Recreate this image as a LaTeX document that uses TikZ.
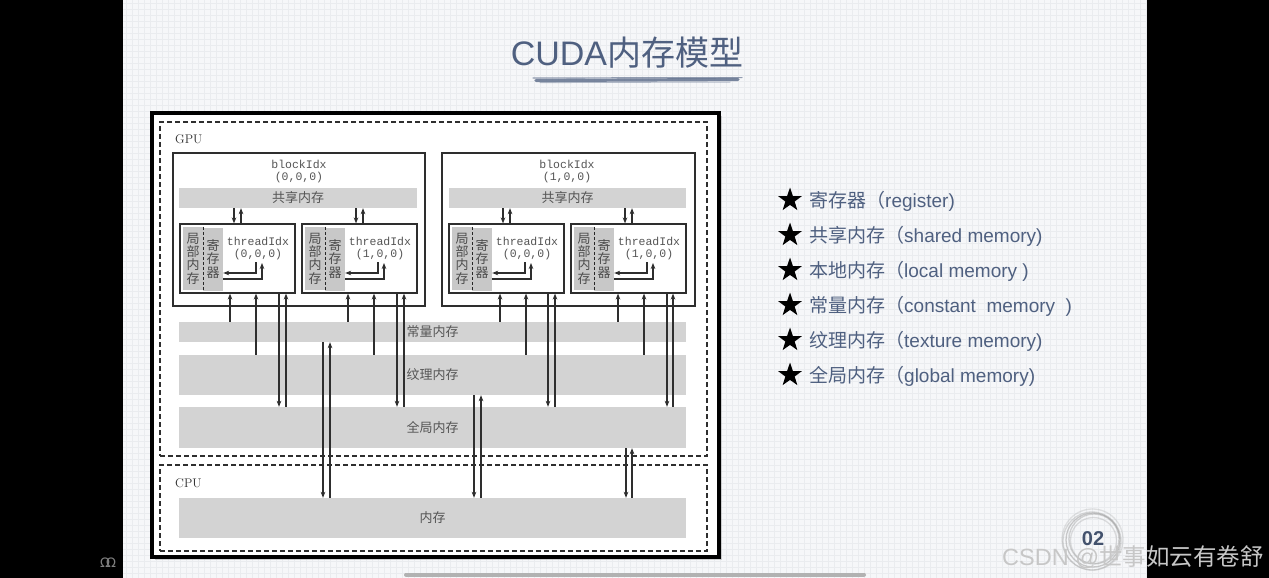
\documentclass[tikz,border=0pt]{standalone}
\usepackage{fontspec}
\usetikzlibrary{arrows.meta,shapes.geometric}
\newfontfamily\cjkf{Noto Sans CJK SC}
\newfontfamily\arialf{Liberation Sans}
\newfontfamily\monof{Liberation Mono}
\newfontfamily\dejavuf{DejaVu Sans}
\definecolor{slate}{HTML}{4F6080}
\definecolor{bargray}{HTML}{D3D3D3}
\definecolor{cellgray}{HTML}{C8C8C8}
\definecolor{ink}{HTML}{2E2E2E}
\definecolor{txtgray}{HTML}{555555}
\definecolor{slidebg}{HTML}{F6F7F9}
\definecolor{gridc}{HTML}{EAECEF}
\begin{document}
\begin{tikzpicture}[x=1pt,y=-1pt,
  bar/.style={fill=bargray, draw=none, inner sep=0pt, font=\cjkf\fontsize{13}{14}\selectfont, text=txtgray},
  thr/.style={draw=ink, line width=1.2pt, fill=white, minimum height=69pt, inner sep=0pt},
  blk/.style={draw=ink, line width=1.1pt, fill=white, minimum height=153pt, inner sep=0pt},
  cell/.style={fill=cellgray, draw=none, inner sep=0pt, minimum width=20pt, minimum height=63pt, align=center, font=\cjkf\fontsize{13}{13.4}\selectfont, text=txtgray!90!black},
  idx/.style={align=center, inner sep=0pt, font=\monof\fontsize{11.5}{12}\selectfont, text=txtgray},
  arr/.style={draw=ink, line width=1.3pt, -{Stealth[length=6pt,width=4.6pt]}},
  divider/.style={draw=black!85, line width=1.3pt, dash pattern=on 3pt off 2pt},
  dbox/.style={draw=ink, line width=1.2pt, dash pattern=on 5pt off 3pt, inner sep=0pt},
  lbl/.style={anchor=west, inner sep=0pt, text=ink, font=\fontsize{12.5}{13}\selectfont},
  item/.style={anchor=west, inner sep=0pt, text=slate, font=\fontsize{19}{20}\selectfont},
  starmark/.style={star, star points=5, star point ratio=2.55, fill=black, draw=none, minimum size=25pt, inner sep=0pt}
]
\useasboundingbox (0,0) rectangle (1269,578);
% screen background
\fill[black] (0,0) rectangle (1269,578);
\fill[slidebg] (123,0) rectangle (1146,578);
\foreach \gx in {126,132,...,1146} \draw[gridc, line width=0.3pt] (\gx,0) -- (\gx,578);
\foreach \gy in {3,9,...,578} \draw[gridc, line width=0.3pt] (123,\gy) -- (1146,\gy);

% title
\node[inner sep=0pt, text=slate, font=\fontsize{34}{36}\selectfont] (title) at (627,53) {{\arialf CUDA}{\cjkf 内存模型}};
\draw[slate, line width=3.2pt, opacity=.75, line cap=round] (536,80.5) -- (738,79.5);
\draw[slate, line width=1.2pt, opacity=.6, line cap=round] (533,78) -- (742,77.6);
\draw[slate!70, line width=1pt, opacity=.6, line cap=round] (540,82.6) -- (730,82);

% outer frame
\fill[black!35, opacity=.5] (155,116) rectangle (722,560);
\node[draw=black, fill=white, line width=3.5pt, minimum width=567pt, minimum height=444pt, inner sep=0pt] (frame) at (435.5,335) {};

% GPU / CPU dashed regions
\node[dbox, minimum width=547pt, minimum height=334pt] (gpu) at (433.5,289) {};
\node[dbox, minimum width=547pt, minimum height=86pt] (cpu) at (433.5,508) {};
\node[lbl] (gpul) at (175,139) {GPU};
\node[lbl] (cpul) at (175,483) {CPU};

% blocks
\node[blk, minimum width=252pt] (b0) at (299,229.5) {};
\node[blk, minimum width=253pt] (b1) at (568.5,229.5) {};
\node[idx] (b0id) at (299,171.5) {blockIdx\\(0,0,0)};
\node[idx] (b1id) at (567,171.5) {blockIdx\\(1,0,0)};
\node[bar, minimum width=238pt, minimum height=20pt] (shA) at (298,198) {共享内存};
\node[bar, minimum width=237pt, minimum height=20pt] (shB) at (567.5,198) {共享内存};

% memory bars
\node[bar, minimum width=507pt, minimum height=20pt] (const) at (432.5,332) {常量内存};
\node[bar, minimum width=507pt, minimum height=40pt] (tex) at (432.5,375) {纹理内存};
\node[bar, minimum width=507pt, minimum height=41pt] (glob) at (432.5,427.5) {全局内存};
\node[bar, minimum width=507pt, minimum height=40pt] (hmem) at (432.5,518) {内存};

% threads
\foreach \n/\l/\i/\c/\t/\gd/\gu/\blk in {t00/180/0/230/256/279/286/shA, t01/302/1/348/374/397/404/shA, t10/449/0/500/526/548/555/shB, t11/571/1/618/644/667/673/shB} {
  \node[thr, minimum width=115pt] (\n) at ({\l+57.5},258.5) {};
  \node[cell] (\n-loc) at ({\l+13},258.5) {局\\部\\内\\存};
  \node[cell] (\n-reg) at ({\l+33},259) {寄\\存\\器};
  \draw[divider] (\n-loc.north east) -- (\n-loc.south east);
  \node[idx] (\n-id) at ({\l+78},249) {threadIdx\\(\i,0,0)};
  \coordinate (\n-p) at ({\l+76},262);
  \coordinate (\n-q) at ({\l+82},263);
  \draw[arr] (\n-p) |- (\n-reg.east |- 0,273);
  \draw[arr] (\n-reg.east |- 0,279) -| (\n-q);
  % shared memory links
  \coordinate (\n-s1) at ({\l+54},0);
  \coordinate (\n-s2) at ({\l+61},0);
  \draw[arr] (\blk.south -| \n-s1) -- (\n.north -| \n-s1);
  \draw[arr] (\n.north -| \n-s2) -- (\blk.south -| \n-s2);
  % constant, texture, global links
  \coordinate (\n-c) at (\c,0);
  \coordinate (\n-t) at (\t,0);
  \coordinate (\n-gd) at (\gd,0);
  \coordinate (\n-gu) at (\gu,0);
  \draw[arr] (const.north -| \n-c) -- (\n.south -| \n-c);
  \draw[arr] (tex.north -| \n-t) -- (\n.south -| \n-t);
  \draw[arr] (\n.south -| \n-gd) -- (glob.north -| \n-gd);
  \draw[arr] (glob.north -| \n-gu) -- (\n.south -| \n-gu);
}

% host <-> device links
\coordinate (h1) at (323,0); \coordinate (h2) at (330,0);
\coordinate (h3) at (474,0); \coordinate (h4) at (481,0);
\coordinate (h5) at (626,0); \coordinate (h6) at (632,0);
\draw[arr] (const.south -| h1) -- (hmem.north -| h1);
\draw[arr] (hmem.north -| h2) -- (const.south -| h2);
\draw[arr] (tex.south -| h3) -- (hmem.north -| h3);
\draw[arr] (hmem.north -| h4) -- (tex.south -| h4);
\draw[arr] (glob.south -| h5) -- (hmem.north -| h5);
\draw[arr] (hmem.north -| h6) -- (glob.south -| h6);

% list on the right
\node[starmark] (s1) at (790,200) {};
\node[starmark] (s2) at (790,235) {};
\node[starmark] (s3) at (790,270) {};
\node[starmark] (s4) at (790,305) {};
\node[starmark] (s5) at (790,340) {};
\node[starmark] (s6) at (790,375) {};
\node[item] (i1) at (809,201) {{\cjkf 寄存器（}{\arialf register)}};
\node[item] (i2) at (809,236) {{\cjkf 共享内存（}{\arialf shared memory)}};
\node[item] (i3) at (809,271) {{\cjkf 本地内存（}{\arialf local memory )}};
\node[item] (i4) at (809,306) {{\cjkf 常量内存（}{\arialf constant\ \ memory\ \ )}};
\node[item] (i5) at (809,341) {{\cjkf 纹理内存（}{\arialf texture memory)}};
\node[item] (i6) at (809,376) {{\cjkf 全局内存（}{\arialf global memory)}};

% page badge
\foreach \dx/\dy/\r/\o in {0/0/27/.5, 1/-1/25/.4, -1/1/29/.35, 0.5/0.5/23/.3, -0.5/-0.5/30.5/.25}
  \draw[black!40, line width=1.3pt, opacity=\o] ({1093+\dx},{540+\dy}) circle (\r);
\node[inner sep=0pt, text=slate!85!black, font=\arialf\bfseries\fontsize{20}{20}\selectfont] (badge) at (1093,539) {02};

% watermark
\node[anchor=west, inner sep=0pt, text=black!22, font=\fontsize{23.5}{24}\selectfont] (wm) at (1002,557) {{\arialf CSDN @}{\cjkf 世事如云有卷舒}};

% screen furniture
\draw[black!30, line width=4pt, line cap=round] (406,574.5) -- (864,574.5);
\node[inner sep=0pt, text=black!50, font=\dejavuf\fontsize{13}{13}\selectfont] (icon) at (108,563) {Ω\kern-4ptΩ};
\end{tikzpicture}
\end{document}
